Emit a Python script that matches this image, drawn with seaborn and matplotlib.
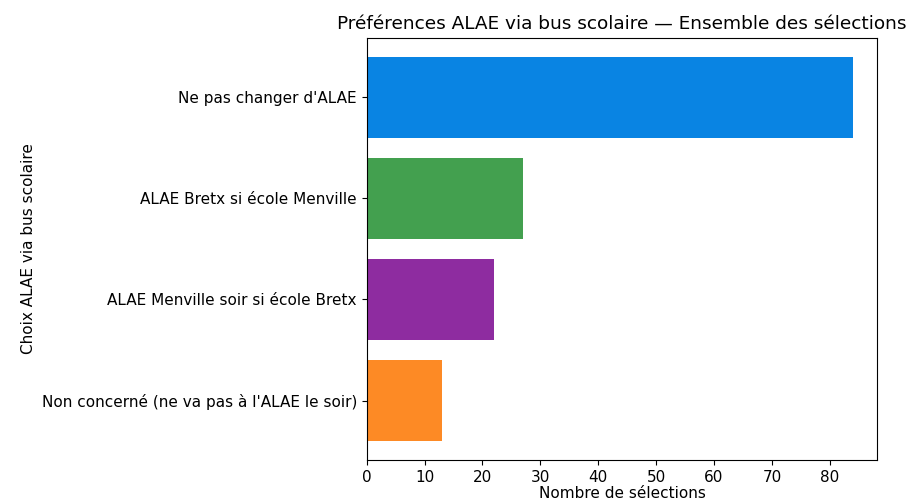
import pandas as pd
import seaborn as sns
import matplotlib.pyplot as plt

choix = ["Ne pas changer d'ALAE",
         "ALAE Bretx si école Menville",
         "ALAE Menville soir si école Bretx",
         "Non concerné (ne va pas à l'ALAE le soir)"]
selections = [84, 27, 22, 13]
couleurs = ["#0984e3", "#43a04f", "#8e2ca0", "#fd8a25"]

df = pd.DataFrame({"choix": choix, "n": selections})

fig, ax = plt.subplots(figsize=(9.12, 5.04), dpi=100)
sns.barplot(data=df, y="choix", x="n", hue="choix", palette=couleurs,
            width=0.8, saturation=1, legend=False, ax=ax)

ax.set_ylim(3.59, -0.59)
ax.set_xlim(0, max(selections) * 1.05)
ax.set_xticks(range(0, 90, 10))
ax.set_title("Préférences ALAE via bus scolaire — Ensemble des sélections", fontsize=13.3)
ax.set_xlabel("Nombre de sélections", fontsize=11, labelpad=1)
ax.set_ylabel("Choix ALAE via bus scolaire", fontsize=11)
ax.tick_params(labelsize=11)

plt.subplots_adjust(left=0.402, right=0.962, top=0.925, bottom=0.087)
plt.savefig("out.png", dpi=100)
plt.close()
